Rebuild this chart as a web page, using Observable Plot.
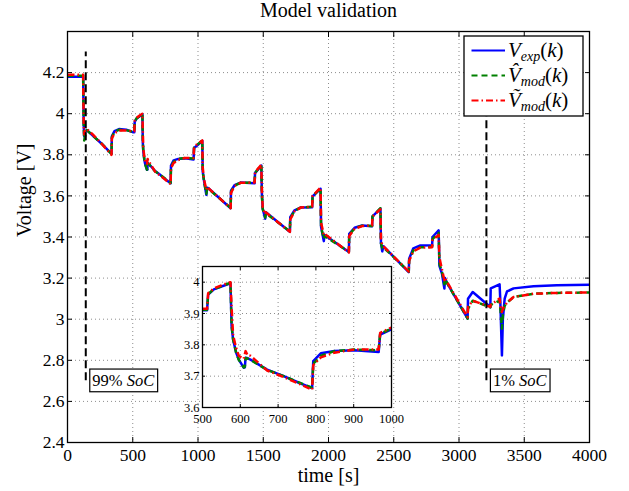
<!DOCTYPE html>
<html><head><meta charset="utf-8">
<script src="https://cdn.jsdelivr.net/npm/d3@7"></script>
<script src="https://cdn.jsdelivr.net/npm/@observablehq/plot@0.6"></script>
<style>
html,body{margin:0;padding:0;background:#fff;}
#wrap{position:relative;width:629px;height:491px;overflow:hidden;background:#fff;}
</style></head><body><div id="wrap"></div>
<script>
// time [s]
const time = [0,120,124,128,134,148,200,260,337,340,
  360,395,450,500,512,515,530,550,574,577,
  581,589,596,609,612,614,620,627,671,715,
  755,790,793,813,849,902,966,970,1000,1033,
  1036,1046,1064,1070,1084,1250,1253,1280,1327,1434,
  1437,1485,1490,1496,1515,1520,1704,1707,1740,1786,
  1875,1878,1939,1943,1964,1970,2156,2159,2200,2258,
  2334,2337,2398,2402,2412,2420,2615,2618,2650,2704,
  2794,2797,2844,2850,2870,2888,2893,2905,3066,3069,
  3105,3240,3243,3311,3316,3329,3336,3350,3368,3418,
  3571,3750,4000];
// measured voltage V_exp(k)
const vExp = [4.18,4.18,3.95,3.89,3.91,3.92,3.89,3.855,3.805,3.89,
  3.915,3.925,3.922,3.91,3.91,3.96,3.977,3.986,3.996,3.86,
  3.817,3.775,3.753,3.727,3.728,3.759,3.757,3.753,3.721,3.70,
  3.679,3.662,3.748,3.773,3.78,3.783,3.777,3.833,3.849,3.868,
  3.72,3.675,3.605,3.64,3.635,3.54,3.625,3.652,3.665,3.662,
  3.711,3.748,3.60,3.538,3.489,3.52,3.426,3.497,3.53,3.543,
  3.545,3.597,3.635,3.45,3.38,3.41,3.327,3.416,3.445,3.456,
  3.452,3.50,3.538,3.37,3.33,3.355,3.229,3.294,3.345,3.359,
  3.36,3.40,3.432,3.26,3.22,3.149,3.20,3.18,3.003,3.10,
  3.132,3.059,3.15,3.17,3.10,2.824,3.00,3.10,3.135,3.15,
  3.16,3.165,3.168];
// model hat V_mod(k)
const vHat = [4.185,4.185,3.95,3.87,3.89,3.92,3.89,3.855,3.805,3.885,
  3.912,3.922,3.92,3.912,3.912,3.962,3.978,3.987,3.998,3.86,
  3.817,3.775,3.752,3.728,3.73,3.758,3.756,3.752,3.72,3.70,
  3.68,3.663,3.74,3.765,3.78,3.785,3.782,3.835,3.852,3.87,
  3.72,3.67,3.61,3.635,3.632,3.542,3.62,3.65,3.664,3.664,
  3.712,3.75,3.60,3.535,3.495,3.515,3.428,3.49,3.528,3.543,
  3.547,3.598,3.637,3.45,3.39,3.405,3.328,3.41,3.443,3.455,
  3.454,3.50,3.54,3.37,3.345,3.35,3.232,3.285,3.335,3.35,
  3.352,3.39,3.42,3.27,3.23,3.17,3.195,3.18,3.003,3.05,
  3.09,3.058,3.07,3.09,3.06,2.954,3.02,3.065,3.08,3.108,
  3.124,3.128,3.13];
// model tilde V_mod(k)
const vTilde = [4.19,4.19,3.96,3.90,3.92,3.925,3.895,3.855,3.80,3.88,
  3.905,3.918,3.918,3.915,3.915,3.965,3.98,3.99,4.0,3.92,
  3.83,3.79,3.765,3.755,3.77,3.78,3.765,3.765,3.718,3.697,
  3.676,3.657,3.735,3.76,3.775,3.785,3.785,3.838,3.855,3.87,
  3.74,3.68,3.63,3.645,3.635,3.54,3.615,3.648,3.664,3.665,
  3.715,3.752,3.62,3.545,3.51,3.52,3.425,3.485,3.525,3.543,
  3.548,3.60,3.64,3.47,3.41,3.415,3.325,3.405,3.44,3.453,
  3.456,3.50,3.535,3.39,3.36,3.355,3.232,3.285,3.33,3.348,
  3.35,3.385,3.41,3.30,3.24,3.19,3.20,3.185,3.01,3.06,
  3.09,3.06,3.07,3.10,3.07,3.035,3.05,3.065,3.08,3.108,
  3.124,3.128,3.13];

const xTicks = [0,500,1000,1500,2000,2500,3000,3500,4000];
const yTicks = [2.4,2.6,2.8,3.0,3.2,3.4,3.6,3.8,4.0,4.2];
const insetXTicks = [500,600,700,800,900,1000];
const insetYTicks = [3.6,3.7,3.8,3.9,4.0];
const socMarks = [{t:140,label:"99%"},{t:3210,label:"1%"}];
const socSpan = [2.7,4.3];
const seriesInfo = [
  {key:"vExp", color:"#0000ff", dash:null, sym:"V", sub:"exp"},
  {key:"vHat", color:"#008000", dash:"6,4", sym:"V\u0302", sub:"mod"},
  {key:"vTilde", color:"#ff0000", dash:"7,3,1.5,3", sym:"\u1E7C", sub:"mod"}
];

const FONT = "'Liberation Serif', 'Times New Roman', serif";
const rows = time.map((t,i)=>({t, vExp:vExp[i], vHat:vHat[i], vTilde:vTilde[i]}));
const fmt = d => String(+(+d).toFixed(1));
const gridOpts = {stroke:"#000", strokeOpacity:0.45, strokeDasharray:"1,3", strokeWidth:1};

const lineMarks = (data) => seriesInfo.map(s => Plot.line(data, {x:"t", y:s.key, stroke:s.color, strokeWidth:2.5, strokeDasharray:s.dash, strokeLinecap:"butt"}));

const main = Plot.plot({
  width:629, height:491, marginLeft:67, marginRight:40, marginTop:31, marginBottom:49,
  style:{fontFamily:FONT, fontSize:"17.5px", background:"white", color:"black"},
  x:{domain:[0,4000], label:null},
  y:{domain:[2.4,4.4], label:null},
  marks:[
    Plot.gridX(xTicks.slice(1,-1), gridOpts),
    Plot.gridY(yTicks.slice(1), gridOpts),
    ...lineMarks(rows),
    Plot.ruleX(socMarks, {x:"t", y1:socSpan[0], y2:socSpan[1], stroke:"black", strokeWidth:2, strokeDasharray:"8,4"}),
    Plot.axisX({ticks:xTicks, anchor:"bottom", tickSize:-5, tickPadding:11, tickFormat:d=>String(d), label:null}),
    Plot.axisX({ticks:xTicks, anchor:"top", tickSize:-5, tickFormat:()=>"", label:null}),
    Plot.axisY({ticks:yTicks, anchor:"left", tickSize:-5, tickPadding:8, tickFormat:fmt, label:null}),
    Plot.axisY({ticks:yTicks, anchor:"right", tickSize:-5, tickFormat:()=>"", label:null}),
    Plot.frame({stroke:"black", strokeWidth:1.3}),
    Plot.text(["Model validation"], {text:d=>d, frameAnchor:"top", lineAnchor:"bottom", dy:-15, fontSize:20}),
    Plot.text(["time [s]"], {text:d=>d, frameAnchor:"bottom", lineAnchor:"bottom", dy:39, fontSize:20}),
    Plot.text(["Voltage [V]"], {text:d=>d, frameAnchor:"left", rotate:-90, dx:-43, fontSize:20})
  ]
});
document.getElementById("wrap").appendChild(main);

const xs = main.scale("x"), ys = main.scale("y");
const svg = d3.select(main);

// SoC annotation boxes
for (const m of socMarks) {
  const x0 = xs.apply(m.t) + 4.5;
  const yc = ys.apply(socSpan[0]);
  const g = svg.append("g");
  const rect = g.append("rect");
  const txt = g.append("text").attr("x", x0 + 2.5).attr("y", yc + 6)
    .attr("text-anchor", "start")
    .attr("font-family", FONT).attr("font-size", 16.5).attr("fill", "black");
  txt.append("tspan").text(m.label + " ");
  txt.append("tspan").attr("font-style", "italic").text("SoC");
  const bb = txt.node().getBBox();
  rect.attr("x", x0).attr("y", yc - 11.3).attr("width", bb.width + 5).attr("height", 22.7)
    .attr("fill", "white").attr("stroke", "black").attr("stroke-width", 1.2);
}

// Legend
const fr = {right: xs.range[1], top: ys.range[1]};
const lg = svg.append("g").attr("transform", `translate(${fr.right - 6 - 119},${fr.top + 5})`);
lg.append("rect").attr("width", 119).attr("height", 80).attr("fill", "white").attr("stroke", "black").attr("stroke-width", 1.3);
seriesInfo.forEach((s, i) => {
  const ly = 14.5 + 25 * i;
  lg.append("line").attr("x1", 7.5).attr("x2", 41).attr("y1", ly).attr("y2", ly)
    .attr("stroke", s.color).attr("stroke-width", 2).attr("stroke-dasharray", s.dash);
  const t = lg.append("text").attr("x", 44).attr("y", ly + 6).attr("text-anchor", "start")
    .attr("font-family", FONT).attr("font-size", 21).attr("fill", "black");
  t.append("tspan").attr("font-style", "italic").text(s.sym);
  t.append("tspan").attr("font-style", "italic").attr("font-size", 14).attr("dy", 4).text(s.sub);
  t.append("tspan").attr("dy", -4).text("(");
  t.append("tspan").attr("font-style", "italic").text("k");
  t.append("tspan").text(")");
});

// Inset
const insetRows = rows.filter(d => d.t >= 500 && d.t <= 1000);
const inset = Plot.plot({
  width:229, height:166, marginLeft:25, marginRight:15, marginTop:5, marginBottom:20,
  style:{fontFamily:FONT, fontSize:"12.5px", background:"transparent", color:"black", overflow:"visible"},
  x:{domain:[500,1000], label:null},
  y:{domain:[3.6,4.05], label:null},
  marks:[
    Plot.frame({fill:"white"}),
    Plot.gridX(insetXTicks.slice(1,-1), gridOpts),
    Plot.gridY(insetYTicks.slice(1), gridOpts),
    ...lineMarks(insetRows),
    Plot.axisX({ticks:insetXTicks, anchor:"bottom", tickSize:-3, tickPadding:9.5, tickFormat:d=>String(d), label:null}),
    Plot.axisX({ticks:insetXTicks, anchor:"top", tickSize:-3, tickFormat:()=>"", label:null}),
    Plot.axisY({ticks:insetYTicks, anchor:"left", tickSize:-3, tickPadding:6, tickFormat:fmt, label:null}),
    Plot.axisY({ticks:insetYTicks, anchor:"right", tickSize:-3, tickFormat:()=>"", label:null}),
    Plot.frame({stroke:"black", strokeWidth:1.3})
  ]
});
inset.style.position = "absolute";
inset.style.left = "177px";
inset.style.top = "261px";
document.getElementById("wrap").appendChild(inset);
</script></body></html>
